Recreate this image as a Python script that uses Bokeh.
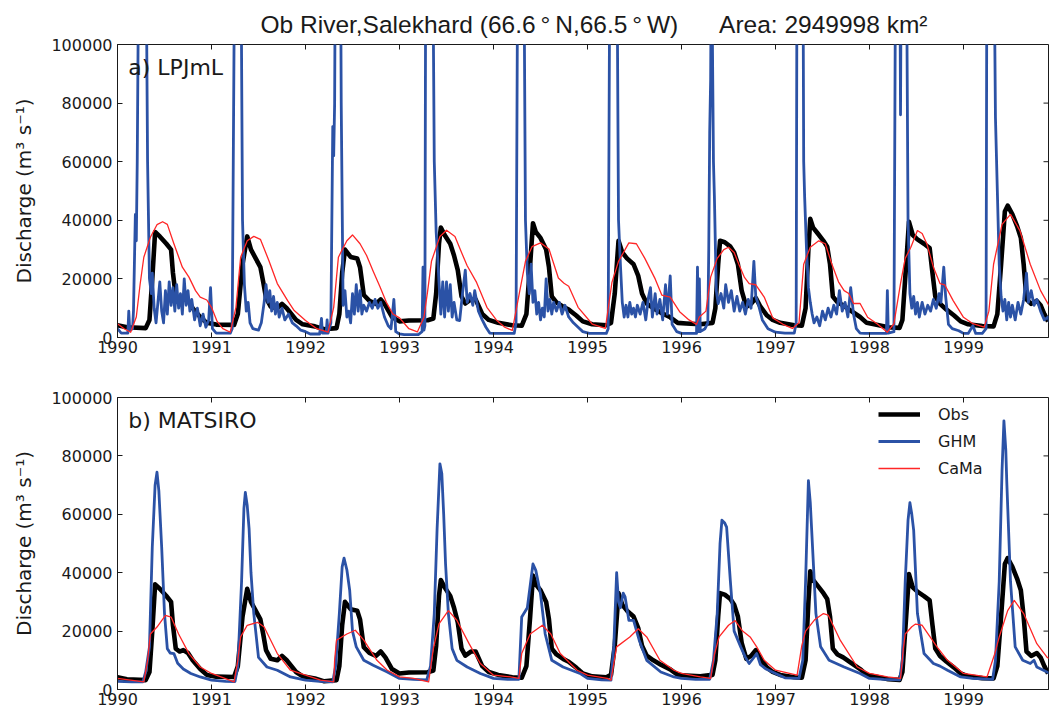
from bokeh.plotting import figure
from bokeh.models import Range1d, FixedTicker, Label, NumeralTickFormatter
from bokeh.layouts import column
from bokeh.embed import file_html
from bokeh.resources import INLINE

# ---------------- data (decimal year, discharge m3/s) ----------------
year_ticks = [1990, 1991, 1992, 1993, 1994, 1995, 1996, 1997, 1998, 1999]
q_ticks = [0, 20000, 40000, 60000, 80000, 100000]
title_text = ("Ob River,Salekhard (66.6\u2009\u00b0\u2009N,66.5\u2009\u00b0\u2009W)"
              "\u00a0\u00a0\u00a0\u00a0\u00a0\u00a0Area: 2949998 km\u00b2")
panel_names = ["a) LPJmL", "b) MATSIRO"]
series_names = ["Obs", "GHM", "CaMa"]

obs = [
    (1990.00, 4200), (1990.10, 3500), (1990.30, 3200), (1990.34, 6000), (1990.37, 20000), (1990.40, 36000),
    (1990.45, 34500), (1990.52, 32000), (1990.57, 30000), (1990.59, 22000), (1990.62, 14000), (1990.66, 13000),
    (1990.70, 13500), (1990.75, 12500), (1990.80, 10000), (1990.88, 7000), (1990.95, 5000),
    (1991.05, 4400), (1991.24, 4300), (1991.28, 8000), (1991.33, 25000), (1991.38, 34500), (1991.42, 30000),
    (1991.47, 27000), (1991.52, 24000), (1991.55, 19000), (1991.58, 13500), (1991.63, 10500), (1991.70, 10000),
    (1991.75, 11500), (1991.80, 10000), (1991.90, 6000), (1991.97, 4500),
    (1992.10, 3800), (1992.20, 2800), (1992.33, 3200), (1992.36, 8000), (1992.39, 22000), (1992.42, 30000),
    (1992.48, 27500), (1992.55, 27000), (1992.58, 24000), (1992.62, 14500), (1992.68, 12500), (1992.75, 11500),
    (1992.80, 13000), (1992.85, 11000), (1992.92, 7000), (1993.00, 5500),
    (1993.10, 5800), (1993.30, 5900), (1993.36, 6500), (1993.39, 15000), (1993.42, 32000), (1993.44, 37500),
    (1993.48, 35000), (1993.54, 32000), (1993.58, 28000), (1993.62, 23000), (1993.66, 14000), (1993.70, 11600),
    (1993.76, 13000), (1993.81, 13000), (1993.88, 8000), (1993.95, 6000),
    (1994.05, 5000), (1994.20, 4200), (1994.30, 4000), (1994.35, 8000), (1994.39, 25000), (1994.42, 39000),
    (1994.45, 36000), (1994.50, 34000), (1994.56, 30000), (1994.59, 24000), (1994.62, 14000), (1994.67, 12000),
    (1994.74, 10500), (1994.80, 9500), (1994.88, 7500), (1994.95, 5500),
    (1995.05, 4500), (1995.20, 4200), (1995.25, 5000), (1995.29, 15000), (1995.33, 33000), (1995.37, 29000),
    (1995.42, 27000), (1995.49, 25000), (1995.54, 21000), (1995.58, 15000), (1995.63, 11600), (1995.70, 10000),
    (1995.78, 8500), (1995.88, 6900), (1995.96, 5000),
    (1996.05, 4800), (1996.20, 4500), (1996.33, 5000), (1996.36, 10000), (1996.39, 25000), (1996.41, 33000),
    (1996.46, 32500), (1996.52, 31000), (1996.56, 29000), (1996.60, 25000), (1996.64, 16000), (1996.69, 10500),
    (1996.74, 11500), (1996.79, 13500), (1996.84, 10500), (1996.91, 7500), (1996.97, 6000),
    (1997.05, 5000), (1997.20, 4200), (1997.28, 4000), (1997.32, 10000), (1997.35, 30000), (1997.37, 40500),
    (1997.40, 37500), (1997.45, 35500), (1997.51, 33000), (1997.55, 31000), (1997.58, 25000), (1997.61, 14000),
    (1997.66, 12000), (1997.72, 11000), (1997.80, 9200), (1997.90, 7000), (1997.97, 5000),
    (1998.05, 4500), (1998.20, 3500), (1998.32, 3300), (1998.35, 6000), (1998.39, 25000), (1998.42, 39500),
    (1998.46, 35000), (1998.51, 33500), (1998.58, 32000), (1998.64, 30500), (1998.67, 22000), (1998.70, 14000),
    (1998.75, 11500), (1998.82, 9500), (1998.90, 7500), (1998.97, 5500),
    (1999.05, 4500), (1999.20, 3900), (1999.32, 3800), (1999.36, 8000), (1999.40, 25000), (1999.44, 43000),
    (1999.47, 45000), (1999.52, 42000), (1999.57, 38000), (1999.61, 34000), (1999.64, 25000), (1999.67, 13000),
    (1999.72, 11500), (1999.78, 12500), (1999.82, 11000), (1999.86, 8000), (1999.90, 5500),
]

lpj_ghm = [
    (1990.00, 3000), (1990.04, 1500), (1990.11, 1500), (1990.12, 9000), (1990.13, 2500), (1990.16, 3000),
    (1990.17, 9000), (1990.19, 42000), (1990.20, 33000), (1990.21, 60000), (1990.23, 150000), (1990.30, 150000),
    (1990.32, 60000), (1990.34, 20000), (1990.36, 15000), (1990.37, 22000), (1990.39, 10000), (1990.41, 5000),
    (1990.43, 12000), (1990.45, 19000), (1990.47, 9000), (1990.49, 5000), (1990.51, 16000), (1990.53, 8000),
    (1990.55, 19000), (1990.57, 11000), (1990.59, 17000), (1990.61, 9000), (1990.63, 18000), (1990.65, 10000),
    (1990.67, 15000), (1990.69, 8000), (1990.71, 20000), (1990.73, 11000), (1990.75, 16000), (1990.77, 9000),
    (1990.79, 13000), (1990.82, 6000), (1990.85, 10000), (1990.88, 4000), (1990.91, 8000), (1990.94, 3500),
    (1990.97, 6000), (1990.99, 17000), (1991.01, 3000), (1991.05, 1500),
    (1991.20, 1500), (1991.22, 3000), (1991.25, 150000), (1991.31, 150000), (1991.33, 40000), (1991.35, 18000),
    (1991.37, 9000), (1991.39, 12000), (1991.41, 5000), (1991.44, 3000), (1991.50, 2500), (1991.53, 5000),
    (1991.56, 12000), (1991.58, 18000), (1991.60, 12000), (1991.62, 16000), (1991.64, 9000), (1991.66, 14000),
    (1991.68, 8000), (1991.70, 12000), (1991.72, 7000), (1991.75, 10000), (1991.78, 6000), (1991.82, 8000),
    (1991.86, 5000), (1991.90, 4000), (1991.95, 2500), (1992.00, 2000),
    (1992.05, 1200), (1992.15, 1200), (1992.17, 6500), (1992.18, 1500), (1992.22, 1500), (1992.23, 6000),
    (1992.24, 1500), (1992.27, 5000), (1992.29, 72000), (1992.30, 62000), (1992.31, 80000), (1992.32, 150000),
    (1992.37, 150000), (1992.38, 80000), (1992.40, 11000), (1992.42, 16000), (1992.44, 7000), (1992.46, 9000),
    (1992.48, 5000), (1992.50, 15000), (1992.52, 8000), (1992.54, 18000), (1992.56, 9000), (1992.58, 16000),
    (1992.60, 8000), (1992.62, 11000), (1992.65, 9000), (1992.68, 12000), (1992.71, 10000), (1992.74, 13000),
    (1992.77, 10000), (1992.80, 12000), (1992.84, 7000), (1992.88, 4000), (1992.91, 3000), (1992.94, 13000),
    (1992.96, 2000), (1993.00, 1200),
    (1993.05, 1000), (1993.20, 1000), (1993.24, 2000), (1993.25, 24000), (1993.26, 2500), (1993.27, 4000),
    (1993.28, 150000), (1993.35, 150000), (1993.37, 60000), (1993.39, 36000), (1993.41, 25000), (1993.42, 19000),
    (1993.44, 8000), (1993.46, 19000), (1993.48, 7000), (1993.50, 19000), (1993.52, 9000), (1993.54, 18000),
    (1993.56, 7000), (1993.58, 12000), (1993.61, 6000), (1993.64, 5800), (1993.67, 15000), (1993.70, 23000),
    (1993.72, 12000), (1993.75, 15000), (1993.78, 11000), (1993.80, 16000), (1993.84, 9000), (1993.88, 6000),
    (1993.92, 3500), (1993.96, 1500), (1994.00, 1400),
    (1994.10, 1400), (1994.22, 1400), (1994.24, 5000), (1994.26, 150000), (1994.32, 150000), (1994.34, 40000),
    (1994.36, 22000), (1994.38, 15000), (1994.40, 25000), (1994.42, 12000), (1994.44, 16000), (1994.46, 8000),
    (1994.48, 12000), (1994.50, 6000), (1994.52, 10000), (1994.54, 7000), (1994.56, 20000), (1994.58, 9000),
    (1994.60, 13000), (1994.62, 8000), (1994.64, 12000), (1994.67, 9000), (1994.70, 12000), (1994.73, 8000),
    (1994.76, 11000), (1994.80, 7000), (1994.85, 5000), (1994.90, 3500), (1994.95, 2000), (1995.02, 1400),
    (1995.10, 1400), (1995.20, 1400), (1995.22, 3000), (1995.24, 150000), (1995.31, 150000), (1995.33, 40000),
    (1995.35, 25000), (1995.37, 12000), (1995.39, 7000), (1995.41, 11000), (1995.43, 7000), (1995.45, 12000),
    (1995.47, 8000), (1995.49, 10000), (1995.51, 7000), (1995.53, 11000), (1995.56, 8000), (1995.59, 12000),
    (1995.62, 6000), (1995.65, 14000), (1995.67, 17000), (1995.69, 7000), (1995.72, 15000), (1995.74, 8000),
    (1995.77, 13000), (1995.80, 6000), (1995.83, 18000), (1995.85, 8000), (1995.88, 21000), (1995.90, 4500),
    (1995.95, 2000), (1996.00, 1400),
    (1996.10, 1400), (1996.16, 1400), (1996.17, 24000), (1996.18, 2000), (1996.19, 20000), (1996.20, 2000),
    (1996.25, 3000), (1996.28, 5000), (1996.29, 30000), (1996.30, 70000), (1996.31, 88000), (1996.32, 150000),
    (1996.33, 97000), (1996.34, 60000), (1996.35, 48000), (1996.37, 16000), (1996.39, 11600), (1996.42, 15000),
    (1996.45, 10000), (1996.47, 18000), (1996.50, 12000), (1996.53, 16000), (1996.56, 9000), (1996.59, 14000),
    (1996.62, 9000), (1996.65, 12000), (1996.68, 8000), (1996.71, 13000), (1996.74, 10000), (1996.77, 26000),
    (1996.79, 14000), (1996.82, 11000), (1996.86, 6000), (1996.92, 3000), (1997.00, 1800),
    (1997.10, 1500), (1997.20, 1500), (1997.22, 5000), (1997.23, 150000), (1997.29, 150000), (1997.30, 60000),
    (1997.31, 48000), (1997.33, 30000), (1997.35, 17000), (1997.37, 12000), (1997.39, 8000), (1997.41, 5000),
    (1997.44, 7000), (1997.47, 4000), (1997.50, 9000), (1997.53, 6000), (1997.56, 10000), (1997.59, 7000),
    (1997.62, 11000), (1997.65, 8000), (1997.68, 16000), (1997.71, 9000), (1997.74, 12000), (1997.77, 7000),
    (1997.80, 17000), (1997.83, 8000), (1997.86, 3000), (1997.90, 1500), (1997.95, 1400),
    (1998.05, 1400), (1998.18, 1400), (1998.19, 16000), (1998.20, 1500), (1998.26, 2000), (1998.28, 150000),
    (1998.32, 150000), (1998.33, 76000), (1998.34, 150000), (1998.39, 150000), (1998.41, 40000), (1998.43, 15000),
    (1998.45, 10000), (1998.47, 14000), (1998.49, 8000), (1998.51, 12000), (1998.53, 7000), (1998.56, 12000),
    (1998.59, 8000), (1998.62, 11000), (1998.65, 9000), (1998.68, 13000), (1998.71, 10000), (1998.74, 15000),
    (1998.76, 12000), (1998.79, 24000), (1998.81, 14000), (1998.84, 4500), (1998.88, 3000), (1998.95, 2300),
    (1999.00, 1400),
    (1999.05, 1400), (1999.10, 4000), (1999.13, 1400), (1999.20, 1400), (1999.24, 3000), (1999.25, 150000),
    (1999.32, 150000), (1999.34, 75000), (1999.36, 50000), (1999.38, 25000), (1999.40, 14000), (1999.42, 9000),
    (1999.44, 13000), (1999.46, 6000), (1999.48, 12000), (1999.50, 7000), (1999.52, 11000), (1999.55, 6000),
    (1999.58, 12000), (1999.61, 8000), (1999.64, 13000), (1999.67, 22000), (1999.69, 12000), (1999.72, 16000),
    (1999.75, 11000), (1999.78, 13000), (1999.82, 9000), (1999.86, 6000), (1999.90, 7000), (1999.92, 5000),
]

lpj_cama = [
    (1990.00, 4700), (1990.07, 3000), (1990.14, 1800), (1990.20, 7000), (1990.24, 18000), (1990.28, 27400),
    (1990.35, 34200), (1990.42, 38500), (1990.48, 39500), (1990.53, 38600), (1990.60, 32000), (1990.69, 24000),
    (1990.76, 20600), (1990.83, 16000), (1990.88, 13800), (1990.95, 12800), (1991.00, 10300), (1991.06, 5500),
    (1991.12, 3000), (1991.20, 1800),
    (1991.26, 10300), (1991.31, 27400), (1991.38, 33000), (1991.45, 34500), (1991.52, 33500), (1991.61, 26300),
    (1991.70, 18400), (1991.81, 12600), (1991.88, 9200), (1992.00, 5800), (1992.12, 3000), (1992.24, 1800),
    (1992.30, 10300), (1992.35, 27400), (1992.44, 33000), (1992.50, 35000), (1992.58, 32000), (1992.65, 28000),
    (1992.72, 22600), (1992.79, 17500), (1992.86, 12000), (1992.93, 8000), (1993.00, 6700), (1993.10, 3000),
    (1993.19, 1900),
    (1993.26, 6900), (1993.30, 16000), (1993.34, 26000), (1993.43, 34500), (1993.50, 36600), (1993.59, 34500),
    (1993.66, 29000), (1993.72, 24500), (1993.82, 18800), (1993.93, 10300), (1994.03, 6000), (1994.12, 3500),
    (1994.20, 2400),
    (1994.28, 16000), (1994.34, 26000), (1994.41, 31000), (1994.50, 32300), (1994.59, 30200), (1994.69, 20300),
    (1994.75, 18500), (1994.80, 17500), (1994.90, 10300), (1995.05, 4600), (1995.19, 3100),
    (1995.26, 18800), (1995.33, 26000), (1995.44, 32300), (1995.52, 32000), (1995.61, 27000), (1995.72, 20000),
    (1995.79, 14500), (1995.88, 13800), (1995.98, 8800), (1996.08, 6000), (1996.16, 4500),
    (1996.19, 7000), (1996.26, 9000), (1996.31, 20600), (1996.38, 27000), (1996.45, 30000), (1996.50, 30800),
    (1996.56, 29000), (1996.61, 25000), (1996.67, 20500), (1996.72, 18400), (1996.79, 18000), (1996.88, 13800),
    (1996.97, 6700), (1997.08, 4500), (1997.18, 3100),
    (1997.25, 5000), (1997.30, 25000), (1997.37, 30800), (1997.46, 33000), (1997.53, 32000), (1997.60, 25000),
    (1997.67, 19000), (1997.73, 16000), (1997.78, 15000), (1997.83, 11600), (1997.90, 11600), (1997.98, 6900),
    (1998.08, 4700), (1998.19, 1800),
    (1998.26, 4700), (1998.33, 18400), (1998.38, 27000), (1998.44, 30800), (1998.51, 36500), (1998.56, 35500),
    (1998.61, 32000), (1998.68, 24000), (1998.75, 18400), (1998.80, 18000), (1998.89, 12600), (1999.00, 6900),
    (1999.10, 4700), (1999.22, 3500),
    (1999.27, 9000), (1999.32, 25000), (1999.41, 38600), (1999.50, 42000), (1999.60, 36500), (1999.71, 25000),
    (1999.82, 16000), (1999.92, 10300),
]

mat_ghm = [
    (1990.00, 2800), (1990.15, 2600), (1990.27, 2600), (1990.30, 6000), (1990.34, 14600), (1990.37, 48700),
    (1990.40, 70000), (1990.42, 74400), (1990.44, 68000), (1990.47, 48700), (1990.50, 26000), (1990.53, 14000),
    (1990.56, 12500), (1990.60, 12300), (1990.64, 9000), (1990.70, 7000), (1990.78, 5500), (1990.88, 4300),
    (1991.00, 3200),
    (1991.15, 2800), (1991.25, 2700), (1991.28, 8000), (1991.32, 37000), (1991.345, 62000), (1991.36, 67500),
    (1991.38, 63000), (1991.40, 55000), (1991.42, 40000), (1991.45, 26000), (1991.50, 11000), (1991.59, 7700),
    (1991.70, 6600), (1991.84, 4300), (1992.00, 3200),
    (1992.15, 2800), (1992.29, 2600), (1992.32, 8000), (1992.36, 26000), (1992.39, 42000), (1992.41, 45000),
    (1992.44, 41000), (1992.47, 34000), (1992.50, 20000), (1992.54, 14600), (1992.62, 10000), (1992.72, 8300),
    (1992.87, 6000), (1993.00, 3800),
    (1993.15, 3500), (1993.29, 3300), (1993.33, 8000), (1993.37, 26000), (1993.40, 55000), (1993.43, 77300),
    (1993.45, 74000), (1993.47, 60000), (1993.49, 43000), (1993.52, 26000), (1993.56, 14000), (1993.61, 10000),
    (1993.72, 7700), (1993.86, 5500), (1994.00, 3800),
    (1994.15, 3500), (1994.27, 3500), (1994.30, 24800), (1994.36, 28000), (1994.40, 38000), (1994.42, 43000),
    (1994.45, 40800), (1994.50, 32800), (1994.55, 19000), (1994.62, 10000), (1994.74, 7700), (1994.92, 5500),
    (1995.00, 3800),
    (1995.15, 3300), (1995.25, 3200), (1995.28, 15000), (1995.31, 40000), (1995.33, 30000), (1995.35, 28000),
    (1995.38, 33000), (1995.40, 31700), (1995.44, 23700), (1995.49, 23700), (1995.55, 16900), (1995.63, 10000),
    (1995.78, 6000), (1995.92, 4300), (1996.00, 3800),
    (1996.15, 3500), (1996.30, 3500), (1996.34, 10000), (1996.38, 26000), (1996.41, 50000), (1996.43, 58000),
    (1996.46, 57000), (1996.48, 55600), (1996.52, 37000), (1996.56, 20000), (1996.63, 14600), (1996.68, 11000),
    (1996.72, 8900), (1996.77, 11000), (1996.80, 12300), (1996.84, 8500), (1996.90, 7000), (1997.00, 5500),
    (1997.10, 4000), (1997.25, 3800), (1997.29, 10000), (1997.32, 37000), (1997.35, 71500), (1997.37, 64000),
    (1997.385, 54500), (1997.43, 26000), (1997.48, 14600), (1997.57, 10000), (1997.73, 7700), (1997.90, 5500),
    (1998.00, 3800),
    (1998.15, 3500), (1998.32, 3300), (1998.35, 10000), (1998.38, 37000), (1998.41, 58000), (1998.43, 64000),
    (1998.45, 60000), (1998.47, 54500), (1998.51, 26000), (1998.58, 12300), (1998.68, 8900), (1998.75, 8000),
    (1998.83, 6600), (1998.97, 4300),
    (1999.10, 3800), (1999.31, 3500), (1999.34, 10000), (1999.38, 37000), (1999.41, 75000), (1999.43, 92000),
    (1999.45, 82000), (1999.46, 71500), (1999.50, 37000), (1999.55, 14600), (1999.63, 10000), (1999.71, 8900),
    (1999.75, 10000), (1999.78, 7700), (1999.92, 5500),
]

mat_cama = [
    (1990.00, 3800), (1990.14, 3200), (1990.28, 2600), (1990.32, 10000), (1990.35, 19000), (1990.42, 21400),
    (1990.51, 25400), (1990.57, 24800), (1990.65, 19000), (1990.76, 12300), (1990.88, 7700), (1991.00, 5500),
    (1991.10, 4300), (1991.24, 2600),
    (1991.28, 10000), (1991.31, 18000), (1991.38, 22000), (1991.49, 23000), (1991.56, 21400), (1991.70, 12300),
    (1991.84, 6600), (1992.00, 4900), (1992.16, 3200), (1992.30, 2600),
    (1992.31, 10000), (1992.33, 16900), (1992.44, 19000), (1992.53, 20300), (1992.62, 16900), (1992.76, 10000),
    (1992.87, 6600), (1993.00, 4300), (1993.15, 3800), (1993.31, 2600),
    (1993.36, 14000), (1993.42, 22500), (1993.52, 27000), (1993.61, 23700), (1993.74, 15700), (1993.86, 8900),
    (1994.00, 4900), (1994.18, 4300), (1994.27, 3800),
    (1994.30, 12300), (1994.39, 19000), (1994.52, 22000), (1994.61, 19000), (1994.71, 12300), (1994.89, 6600),
    (1995.00, 4900), (1995.21, 3800), (1995.25, 3200),
    (1995.31, 14600), (1995.45, 18000), (1995.54, 20800), (1995.63, 18000), (1995.77, 10000), (1995.92, 6600),
    (1996.00, 5500), (1996.20, 4300), (1996.31, 3800),
    (1996.35, 12000), (1996.40, 18000), (1996.50, 22000), (1996.57, 23600), (1996.65, 20000), (1996.73, 18000),
    (1996.80, 14600), (1996.88, 10000), (1997.00, 6600), (1997.23, 4900),
    (1997.28, 15000), (1997.32, 20000), (1997.42, 24000), (1997.51, 26000), (1997.56, 25500), (1997.69, 16800),
    (1997.87, 7700), (1998.00, 5500), (1998.19, 4300), (1998.33, 3800),
    (1998.36, 14000), (1998.38, 19000), (1998.45, 21500), (1998.49, 22400), (1998.56, 22000), (1998.72, 14500),
    (1998.83, 10000), (1999.00, 5500), (1999.25, 4300),
    (1999.33, 12000), (1999.38, 18000), (1999.47, 27000), (1999.54, 30500), (1999.64, 26000), (1999.78, 15700),
    (1999.89, 11000), (1999.92, 10500),
]

# ---------------- styling / layout ----------------
BLUE = "#2b52a6"
RED = "#ff2626"
INK = "#1a1a1a"
TICK_FONT = "DejaVu Sans"
FIG_W = 1050
BORDER_L, BORDER_R = 117, 2
FRAME_W = FIG_W - BORDER_L - BORDER_R
PX_PER_YEAR = 94.0
X_START = 1990.0
X_END = X_START + FRAME_W / PX_PER_YEAR
Y_MAX = 100000
TICK_LEN = 5


def xs(series):
    return [t for t, _ in series]


def ys(series):
    return [q for _, q in series]


def make_panel(top, frame_h, bottom, ghm, cama, label, title=None, legend=False):
    p = figure(width=FIG_W, height=top + frame_h + bottom, output_backend="svg", toolbar_location=None,
               x_range=Range1d(X_START, X_END), y_range=Range1d(0, Y_MAX),
               min_border_left=BORDER_L, min_border_right=BORDER_R,
               min_border_top=top, min_border_bottom=bottom,
               background_fill_color="white", border_fill_color="white")
    p.grid.visible = False
    p.outline_line_color = INK
    p.outline_line_width = 1

    p.xaxis.ticker = FixedTicker(ticks=year_ticks, minor_ticks=[])
    p.yaxis.ticker = FixedTicker(ticks=q_ticks, minor_ticks=[])
    p.yaxis.formatter = NumeralTickFormatter(format="0")
    for ax in (p.xaxis[0], p.yaxis[0]):
        ax.major_tick_in = TICK_LEN
        ax.major_tick_out = 0
        ax.minor_tick_line_color = None
        ax.axis_line_color = INK
        ax.major_tick_line_color = INK
        ax.major_label_text_font = TICK_FONT
        ax.major_label_text_font_size = "16px"
        ax.major_label_text_color = INK
    p.xaxis.major_label_standoff = 3
    p.yaxis.major_label_standoff = 5
    p.yaxis.axis_label = "Discharge (m\u00b3 s\u207b\u00b9)"
    p.yaxis.axis_label_text_font = TICK_FONT
    p.yaxis.axis_label_text_font_size = "20px"
    p.yaxis.axis_label_text_font_style = "normal"
    p.yaxis.axis_label_text_color = INK
    p.yaxis.axis_label_standoff = 12

    # inside tick marks on the top and right spines, at the same tick values
    dy = TICK_LEN * Y_MAX / frame_h
    dx = TICK_LEN / PX_PER_YEAR
    p.segment(x0=year_ticks, y0=[Y_MAX] * len(year_ticks), x1=year_ticks, y1=[Y_MAX - dy] * len(year_ticks),
              line_color=INK, line_width=1)
    p.segment(x0=[X_END] * len(q_ticks), y0=q_ticks, x1=[X_END - dx] * len(q_ticks), y1=q_ticks,
              line_color=INK, line_width=1)

    kw_obs = dict(line_color="black", line_width=4.6, line_join="round")
    kw_ghm = dict(line_color=BLUE, line_width=2.8, line_join="round")
    kw_cama = dict(line_color=RED, line_width=1.3, line_join="round")
    if legend:
        p.line(xs(obs), ys(obs), legend_label=series_names[0], **kw_obs)
        p.line(xs(ghm), ys(ghm), legend_label=series_names[1], **kw_ghm)
        p.line(xs(cama), ys(cama), legend_label=series_names[2], **kw_cama)
    else:
        p.line(xs(obs), ys(obs), **kw_obs)
        p.line(xs(ghm), ys(ghm), **kw_ghm)
        p.line(xs(cama), ys(cama), **kw_cama)

    p.add_layout(Label(x=1990.115, y=96300, text=label, text_baseline="top", text_align="left",
                       text_font=TICK_FONT, text_font_size="22px", text_color=INK))

    if title:
        p.title.text = title
        p.title.align = "left"
        p.title.text_font = "Liberation Sans"
        p.title.text_font_size = "24.5px"
        p.title.text_font_style = "normal"
        p.title.text_color = INK
        p.title.offset = 143
        p.title.standoff = 13

    if legend:
        lg = p.legend[0]
        lg.location = (761, frame_h - 81)
        lg.border_line_color = None
        lg.background_fill_alpha = 0
        lg.label_text_font = TICK_FONT
        lg.label_text_font_size = "16px"
        lg.label_text_color = INK
        lg.glyph_width = 42
        lg.glyph_height = 20
        lg.label_height = 20
        lg.spacing = 7
        lg.padding = 0
        lg.margin = 0
        lg.label_standoff = 18
    return p


p1 = make_panel(44, 293, 30, lpj_ghm, lpj_cama, panel_names[0], title=title_text)
p2 = make_panel(30, 292, 27, mat_ghm, mat_cama, panel_names[1], legend=True)

layout = column(p1, p2)
open("out.html", "w").write(file_html(layout, INLINE))
